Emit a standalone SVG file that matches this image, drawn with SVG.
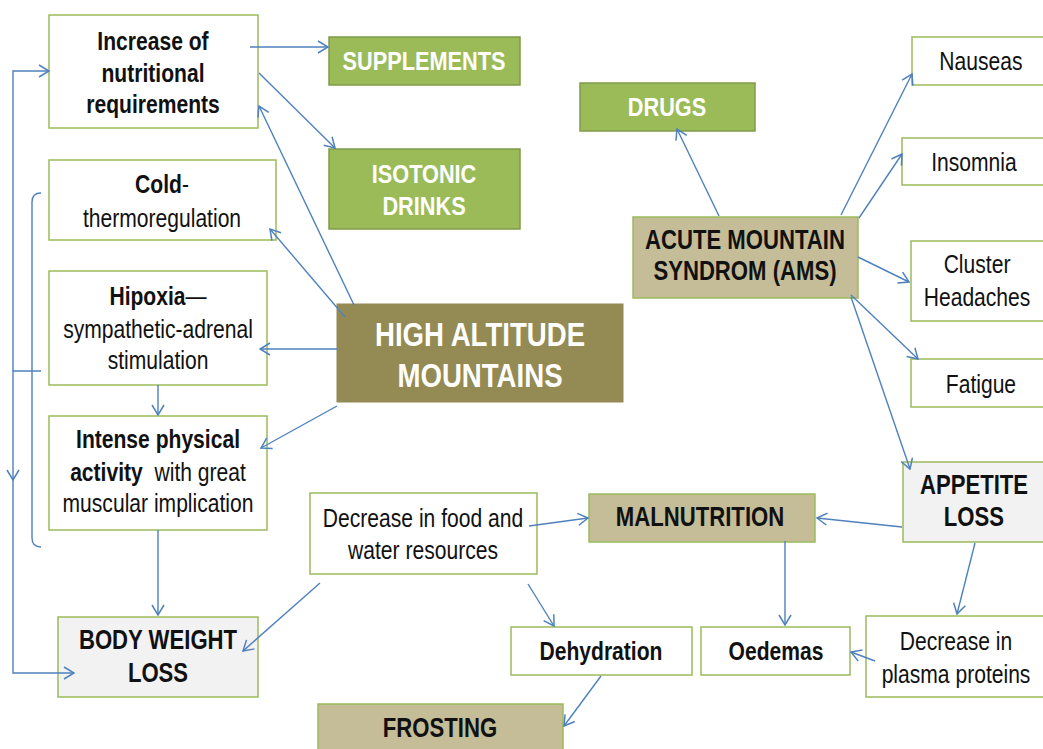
<svg xmlns="http://www.w3.org/2000/svg" width="1043" height="749" viewBox="0 0 1043 749">
<style>
  .box{stroke:#9bbb59;stroke-width:1.5}
  .white{fill:#ffffff}
  .gray{fill:#f2f2f2}
  .tan{fill:#c4bd97}
  .green{fill:#9bbb59;stroke:#7f9a48}
  .olive{fill:#948a54;stroke:#948a54}
  text{font-family:"Liberation Sans","Arial",sans-serif;font-size:25.7px;fill:#111;text-anchor:middle;transform:scale(0.82,1)}
  .b{font-weight:bold}
  .wt{fill:#ffffff;font-weight:bold;font-size:26.5px}
  .big{font-size:33.7px}
  .cap{font-size:27px}
  .conn path,.conn line{stroke:#4f81bd;stroke-width:1.4;fill:none}
  .arr{marker-end:url(#ah)}
</style>
<defs>
  <marker id="ah" markerUnits="userSpaceOnUse" markerWidth="12" markerHeight="14" viewBox="0 0 12 14" refX="11" refY="7" orient="auto">
    <path d="M1,1 L11,7 L1,13" fill="none" stroke="#4f81bd" stroke-width="1.5"/>
  </marker>
</defs>
<rect width="1043" height="749" fill="#ffffff"/>

<g id="increase"><rect class="box white" x="49" y="15" width="209" height="113"/>
  <text class="b" x="186.6" y="50">Increase of</text>
  <text class="b" x="186.6" y="82">nutritional</text>
  <text class="b" x="186.6" y="113">requirements</text></g>
<g id="cold"><rect class="box white" x="49" y="160" width="227" height="80"/>
  <text x="197.6" y="193"><tspan class="b">Cold</tspan>-</text>
  <text x="197.6" y="227">thermoregulation</text></g>
<g id="hipoxia"><rect class="box white" x="49" y="271" width="218" height="114"/>
  <text x="192.7" y="305"><tspan class="b">Hipoxia</tspan>—</text>
  <text x="192.7" y="338">sympathetic-adrenal</text>
  <text x="192.7" y="369">stimulation</text></g>
<g id="intense"><rect class="box white" x="49" y="416" width="218" height="114"/>
  <text class="b" x="192.7" y="448">Intense physical</text>
  <text x="192.7" y="481" xml:space="preserve"><tspan class="b">activity</tspan>  with great</text>
  <text x="192.7" y="512">muscular implication</text></g>
<g id="bodyweight"><rect class="box gray" x="58" y="617" width="200" height="80"/>
  <text class="b cap" x="192.7" y="649">BODY WEIGHT</text>
  <text class="b cap" x="192.7" y="682">LOSS</text></g>
<g id="supplements"><rect class="box green" x="329" y="37" width="191" height="48"/>
  <text class="wt" x="517.1" y="70">SUPPLEMENTS</text></g>
<g id="isotonic"><rect class="box green" x="329" y="149" width="191" height="80"/>
  <text class="wt" x="517.1" y="183">ISOTONIC</text>
  <text class="wt" x="517.1" y="215">DRINKS</text></g>
<g id="drugs"><rect class="box green" x="580" y="83" width="175" height="48"/>
  <text class="wt" x="813.4" y="116">DRUGS</text></g>
<g id="highaltitude"><rect class="olive" x="337" y="304" width="286" height="98"/>
  <text class="wt big" x="585.4" y="346">HIGH ALTITUDE</text>
  <text class="wt big" x="585.4" y="387">MOUNTAINS</text></g>
<g id="ams"><rect class="box tan" x="633" y="217" width="225" height="81"/>
  <text class="b cap" x="908.5" y="249">ACUTE MOUNTAIN</text>
  <text class="b cap" x="908.5" y="280">SYNDROM (AMS)</text></g>
<g id="nauseas"><rect class="box white" x="912" y="37" width="140" height="48"/>
  <text x="1196.3" y="70">Nauseas</text></g>
<g id="insomnia"><rect class="box white" x="902" y="138" width="150" height="47"/>
  <text x="1187.8" y="171">Insomnia</text></g>
<g id="cluster"><rect class="box white" x="911" y="241" width="140" height="80"/>
  <text x="1191.5" y="273">Cluster</text>
  <text x="1191.5" y="306">Headaches</text></g>
<g id="fatigue"><rect class="box white" x="911" y="359" width="140" height="48"/>
  <text x="1196.3" y="393">Fatigue</text></g>
<g id="appetite"><rect class="box gray" x="903" y="462" width="150" height="80"/>
  <text class="b cap" x="1187.8" y="494">APPETITE</text>
  <text class="b cap" x="1187.8" y="526">LOSS</text></g>
<g id="decreasefood"><rect class="box white" x="310" y="493" width="227" height="81"/>
  <text x="515.9" y="527">Decrease in food and</text>
  <text x="515.9" y="559">water resources</text></g>
<g id="malnutrition"><rect class="box tan" x="589" y="494" width="226" height="48"/>
  <text class="b cap" x="853.7" y="526">MALNUTRITION</text></g>
<g id="dehydration"><rect class="box white" x="511" y="627" width="181" height="48"/>
  <text class="b" x="732.9" y="660">Dehydration</text></g>
<g id="oedemas"><rect class="box white" x="701" y="627" width="149" height="48"/>
  <text class="b" x="946.3" y="660">Oedemas</text></g>
<g id="plasma"><rect class="box white" x="866" y="616" width="186" height="81"/>
  <text x="1165.9" y="650">Decrease in</text>
  <text x="1165.9" y="683">plasma proteins</text></g>
<g id="frosting"><rect class="box tan" x="318" y="704" width="245" height="60"/>
  <text class="b cap" x="536.6" y="737">FROSTING</text></g>

<g class="conn">
  <line class="arr" x1="250" y1="47" x2="328" y2="47"/>
  <line class="arr" x1="259" y1="73" x2="335" y2="148"/>
  <line class="arr" x1="354" y1="305" x2="259" y2="106"/>
  <line class="arr" x1="345" y1="317" x2="270" y2="229"/>
  <line class="arr" x1="337" y1="349" x2="260" y2="349"/>
  <line class="arr" x1="337" y1="406" x2="261" y2="448"/>
  <line class="arr" x1="158" y1="385" x2="158" y2="415"/>
  <line class="arr" x1="158" y1="530" x2="158" y2="615"/>
  <line class="arr" x1="320" y1="583" x2="243" y2="651"/>
  <line class="arr" x1="529" y1="526" x2="588" y2="518"/>
  <line class="arr" x1="528" y1="584" x2="554" y2="626"/>
  <line class="arr" x1="601" y1="676" x2="564" y2="726"/>
  <line class="arr" x1="785" y1="541" x2="785" y2="625"/>
  <line class="arr" x1="902" y1="527" x2="817" y2="518"/>
  <line class="arr" x1="975" y1="543" x2="957" y2="614"/>
  <line class="arr" x1="875" y1="661" x2="851" y2="652"/>
  <line class="arr" x1="719" y1="216" x2="677" y2="129"/>
  <line class="arr" x1="841" y1="215" x2="912" y2="74"/>
  <line class="arr" x1="859" y1="218" x2="902" y2="154"/>
  <line class="arr" x1="858" y1="257" x2="909" y2="282"/>
  <line class="arr" x1="851" y1="295" x2="918" y2="359"/>
  <line class="arr" x1="851" y1="297" x2="910" y2="469"/>
  <path d="M41,193 Q32,193 32,202 L32,538 Q32,547 41,547"/>
  <path class="arr" d="M41,371 L13,371 L13,480"/>
  <path class="arr" d="M13,478 L13,673 L74,673"/>
  <path class="arr" d="M13,371 L13,71 L49,71"/>
</g>
</svg>
